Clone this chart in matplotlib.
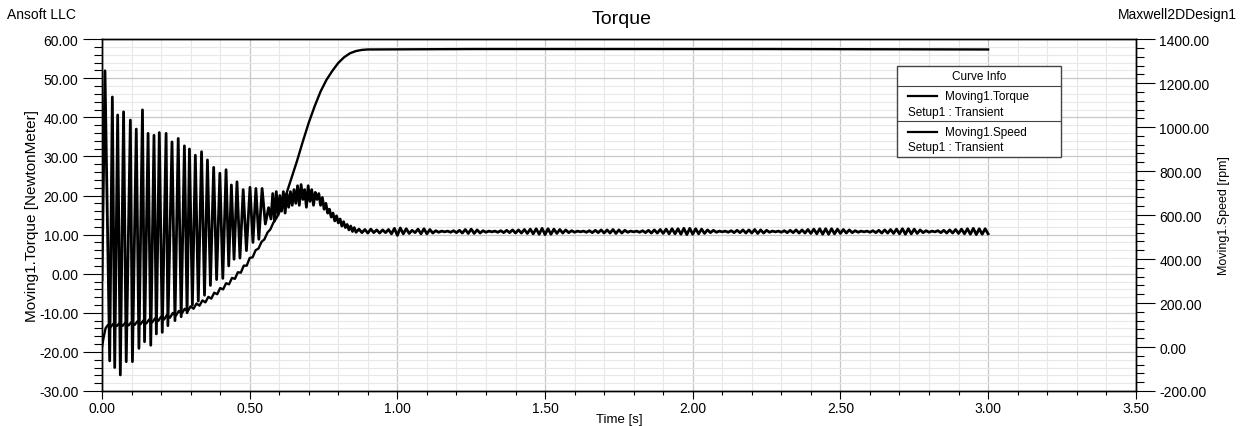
import numpy as np
import matplotlib.pyplot as plt
from matplotlib.ticker import MultipleLocator, FormatStrFormatter
from matplotlib.patches import Rectangle

plt.rcParams['font.family'] = ['Liberation Sans', 'DejaVu Sans']

# torque start-up transient: peaks / troughs (s, N.m)
torque_t = [0.000, 0.010, 0.026, 0.035, 0.043, 0.053, 0.062, 0.073, 0.082, 0.096,
            0.103, 0.116, 0.125, 0.137, 0.144, 0.156, 0.165, 0.176, 0.184, 0.194,
            0.204, 0.217, 0.223, 0.237, 0.247, 0.258, 0.268, 0.279, 0.288, 0.296,
            0.306, 0.316, 0.326, 0.337, 0.347, 0.357, 0.367, 0.378, 0.388, 0.399,
            0.409, 0.420, 0.429, 0.438, 0.447, 0.457, 0.467, 0.478, 0.489, 0.501,
            0.511, 0.521, 0.531, 0.542, 0.553, 0.564,
            0.572, 0.578, 0.584, 0.590, 0.596, 0.602, 0.608, 0.614, 0.620, 0.626,
            0.632, 0.638, 0.644, 0.650, 0.656, 0.662, 0.668, 0.674, 0.680, 0.686,
            0.692, 0.698, 0.704, 0.710, 0.716, 0.722, 0.728, 0.734, 0.740, 0.746,
            0.752, 0.758, 0.764, 0.770, 0.776, 0.782, 0.788, 0.794, 0.800, 0.806,
            0.812, 0.818, 0.824, 0.830, 0.836, 0.842, 0.848, 0.854, 0.860]
torque_v = [-1.5, 51.9, -22.3, 45.2, -24.0, 40.6, -25.9, 41.4, -22.5, 39.3,
            -22.5, 37.0, -19.1, 41.9, -17.4, 35.9, -18.3, 35.4, -15.4, 36.1,
            -15.0, 35.9, -13.3, 33.7, -12.0, 34.6, -11.0, 32.7, -10.0, 31.9,
            -8.0, 30.3, -7.0, 31.2, -5.5, 29.1, -3.0, 27.2, -1.5, 25.7,
            -1.2, 26.6, 2.0, 22.7, 3.7, 23.5, 4.0, 21.5, 5.9, 22.1,
            8.0, 21.8, 8.8, 21.8, 12.7, 16.9,
            14.0, 20.5, 13.5, 21.0, 15.0, 20.0, 16.0, 21.0, 15.5, 20.5,
            17.0, 21.0, 17.5, 21.5, 18.0, 22.5, 17.5, 22.8, 19.0, 21.5,
            17.0, 22.5, 18.5, 21.5, 17.5, 20.8, 19.0, 20.5, 17.5, 19.5,
            16.5, 18.0, 15.5, 16.5, 14.5, 15.5, 13.5, 14.8, 13.0, 14.0,
            12.2, 13.3, 11.8, 12.6, 11.2, 12.2, 10.8, 11.8, 10.6]

# steady-state torque ripple, one sample every 10 ms from 0.87 s to 3.00 s
torque_ss = [11.4, 10.5, 11.3, 10.4, 11.4, 10.5, 11.2, 10.4, 11.2, 10.5,
             11.3, 10.2, 11.6, 9.8, 11.7, 10.2, 11.5, 10.3, 11.1, 10.5,
             11.4, 10.2, 11.5, 10.2, 11.3, 10.4, 11.0, 10.6, 10.9, 10.7,
             10.9, 10.6, 11.0, 10.5, 11.1, 10.4, 11.3, 10.3, 11.4, 10.3,
             11.2, 10.4, 11.0, 10.6, 10.9, 10.7, 10.9, 10.6, 11.0, 10.5,
             11.1, 10.5, 11.2, 10.4, 11.2, 10.4, 11.3, 10.3, 11.4, 10.2,
             11.5, 10.1, 11.6, 10.0, 11.5, 10.1, 11.4, 10.3, 11.3, 10.4,
             11.2, 10.5, 11.0, 10.6, 10.9, 10.7, 10.9, 10.6, 11.0, 10.5,
             11.1, 10.5, 11.2, 10.4, 11.2, 10.4, 11.3, 10.3, 11.2, 10.4,
             11.1, 10.6, 10.9, 10.7, 10.9, 10.6, 11.0, 10.5, 11.1, 10.4,
             11.2, 10.4, 11.3, 10.3, 11.4, 10.2, 11.5, 10.2, 11.5, 10.1,
             11.6, 10.0, 11.6, 10.1, 11.5, 10.2, 11.4, 10.3, 11.2, 10.5,
             11.1, 10.6, 10.9, 10.7, 10.9, 10.6, 11.0, 10.5, 11.1, 10.5,
             11.2, 10.4, 11.2, 10.4, 11.3, 10.3, 11.2, 10.4, 11.1, 10.6,
             10.9, 10.7, 10.9, 10.6, 11.0, 10.5, 11.1, 10.5, 11.2, 10.4,
             11.2, 10.4, 11.3, 10.3, 11.4, 10.2, 11.5, 10.1, 11.5, 10.1,
             11.5, 10.2, 11.4, 10.3, 11.3, 10.4, 11.2, 10.5, 11.0, 10.6,
             10.9, 10.7, 10.9, 10.6, 11.0, 10.5, 11.1, 10.4, 11.2, 10.4,
             11.3, 10.3, 11.4, 10.2, 11.5, 10.1, 11.5, 10.2, 11.4, 10.3,
             11.2, 10.5, 11.0, 10.6, 10.9, 10.7, 11.0, 10.5, 11.1, 10.4,
             11.2, 10.4, 11.3, 10.3, 11.4, 10.2, 11.5, 10.1, 11.6, 10.0,
             11.5, 10.1, 11.5, 10.2]

# rotor speed (rpm)
speed_t = [0.000, 0.005, 0.012, 0.02, 0.03, 0.04, 0.05, 0.06, 0.07, 0.08, 0.09,
           0.10, 0.11, 0.12, 0.13, 0.14, 0.15, 0.16, 0.17, 0.18, 0.19,
           0.20, 0.21, 0.22, 0.23, 0.24, 0.25, 0.26, 0.27, 0.28, 0.29,
           0.30, 0.31, 0.32, 0.33, 0.34, 0.35, 0.36, 0.37, 0.38, 0.39,
           0.40, 0.41, 0.42, 0.43, 0.44, 0.45, 0.46, 0.47, 0.48, 0.49,
           0.50, 0.51, 0.52, 0.53, 0.54, 0.55, 0.56, 0.57, 0.58, 0.59,
           0.60, 0.625, 0.66, 0.68, 0.70, 0.72, 0.74, 0.76, 0.78, 0.80,
           0.82, 0.84, 0.86, 0.88, 0.90, 1.26, 2.26, 3.00]
speed_v = [0, 40, 85, 100, 92, 108, 95, 110, 96, 112, 98,
           114, 100, 117, 103, 121, 107, 126, 112, 131, 118,
           138, 125, 146, 133, 155, 142, 164, 152, 174, 162,
           185, 174, 198, 188, 212, 203, 228, 220, 247, 240,
           268, 262, 290, 285, 314, 310, 340, 338, 370, 370,
           405, 408, 440, 448, 478, 490, 520, 535, 565, 585,
           612, 700, 845, 935, 1020, 1095, 1162, 1215, 1256, 1292,
           1318, 1336, 1346, 1351, 1353, 1355, 1355, 1353]

t_ss = np.linspace(0.87, 3.00, len(torque_ss))

fig = plt.figure(figsize=(12.44, 4.27), dpi=100)
ax = fig.add_axes([0.082, 0.082, 0.831, 0.824])
ax2 = ax.twinx()

ax.plot(list(torque_t) + list(t_ss), list(torque_v) + list(torque_ss),
        color='black', lw=2.0, zorder=3)
ax2.plot(speed_t, speed_v, color='black', lw=1.7, zorder=3)

ax.set_xlim(0, 3.5)
ax.set_ylim(-30, 60)
ax2.set_ylim(-200, 1400)

ax.xaxis.set_major_locator(MultipleLocator(0.5))
ax.xaxis.set_minor_locator(MultipleLocator(0.1))
ax.yaxis.set_major_locator(MultipleLocator(10))
ax.yaxis.set_minor_locator(MultipleLocator(2))
ax2.yaxis.set_major_locator(MultipleLocator(200))
ax2.yaxis.set_minor_locator(MultipleLocator(40))
for a in (ax.xaxis, ax.yaxis, ax2.yaxis):
    a.set_major_formatter(FormatStrFormatter('%.2f'))

ax.grid(which='minor', color='#e8e8e8', lw=0.8, zorder=0)
ax.grid(which='major', color='#c8c8c8', lw=0.9, zorder=0)
ax.set_axisbelow(True)

ax.tick_params(axis='y', which='both', left=True, right=False)
ax.tick_params(axis='x', which='both', bottom=True, top=False)
ax2.tick_params(axis='y', which='both', left=False, right=True)
ax2.tick_params(axis='x', which='both', bottom=False, top=False)

ax.tick_params(axis='y', which='major', length=14, width=0.8, labelsize=10, pad=3)
ax.tick_params(axis='y', which='minor', length=6, width=0.8)
ax.tick_params(axis='x', which='major', length=6, width=0.8, labelsize=10, pad=1)
ax.tick_params(axis='x', which='minor', length=3, width=0.8)
ax2.tick_params(axis='y', which='major', length=14, width=0.8, labelsize=10, pad=3)
ax2.tick_params(axis='y', which='minor', length=6, width=0.8)
for a in (ax, ax2):
    for s in a.spines.values():
        s.set_linewidth(1.0)
        s.set_color('black')

ax.set_xlabel('Time [s]', fontsize=9.5, labelpad=-1)
ax.set_ylabel('Moving1.Torque [NewtonMeter]', fontsize=11, labelpad=0)
ax2.set_ylabel('Moving1.Speed [rpm]', fontsize=9, labelpad=6)

fig.text(0.5, 0.955, 'Torque', ha='center', va='center', fontsize=14)
fig.text(0.006, 0.965, 'Ansoft LLC', ha='left', va='center', fontsize=10)
fig.text(0.994, 0.965, 'Maxwell2DDesign1', ha='right', va='center', fontsize=10)

# Curve Info box
L, R, T, B = 0.769, 0.9275, 0.924, 0.665
h1, h2 = 0.867, 0.767
ax.add_patch(Rectangle((L, B), R - L, T - B, transform=ax.transAxes,
                       facecolor='white', edgecolor='#444444', lw=1.0, zorder=5))
for yy in (h1, h2):
    ax.plot([L, R], [yy, yy], transform=ax.transAxes, color='#444444', lw=0.8, zorder=6)
ax.text((L + R) / 2, (T + h1) / 2, 'Curve Info', transform=ax.transAxes,
        ha='center', va='center', fontsize=8.5, zorder=7)
entries = [('Moving1.Torque', h1, h2), ('Moving1.Speed', h2, B)]
for name, top, bot in entries:
    y1 = top - (top - bot) * 0.3
    y2 = top - (top - bot) * 0.73
    ax.plot([L + 0.011, L + 0.039], [y1, y1], transform=ax.transAxes,
            color='black', lw=1.6, zorder=7)
    ax.text(L + 0.046, y1, name, transform=ax.transAxes, ha='left', va='center',
            fontsize=8.5, zorder=7)
    ax.text(L + 0.011, y2, 'Setup1 : Transient', transform=ax.transAxes,
            ha='left', va='center', fontsize=8.5, zorder=7)

fig.savefig('out.png', dpi=100)
